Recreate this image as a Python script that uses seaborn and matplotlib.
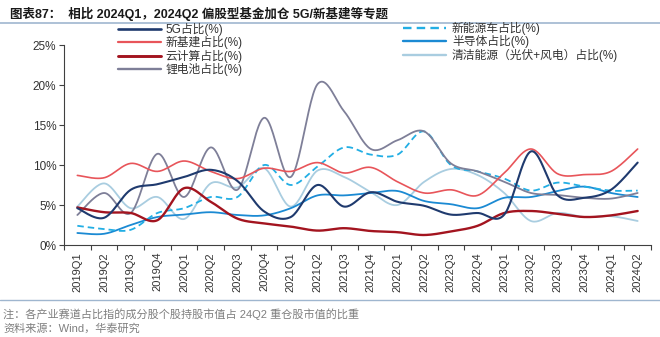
import numpy as np
import pandas as pd
import matplotlib
matplotlib.use("Agg")
import matplotlib.pyplot as plt
import seaborn as sns
from matplotlib.lines import Line2D
from matplotlib.ticker import FixedLocator, FuncFormatter

quarters = ["2019Q1", "2019Q2", "2019Q3", "2019Q4", "2020Q1", "2020Q2", "2020Q3", "2020Q4",
            "2021Q1", "2021Q2", "2021Q3", "2021Q4", "2022Q1", "2022Q2", "2022Q3", "2022Q4",
            "2023Q1", "2023Q2", "2023Q3", "2023Q4", "2024Q1", "2024Q2"]

g5 = [4.6, 3.4, 6.9, 7.6, 8.5, 9.4, 8.0, 4.2, 3.5, 7.5, 4.8, 6.6, 5.4, 4.9, 3.8, 4.0, 3.8, 11.7, 6.2, 5.9, 6.9, 10.3]
nev = [2.4, 2.0, 1.9, 4.0, 4.6, 6.0, 6.0, 10.0, 7.5, 9.8, 12.2, 11.3, 11.3, 14.2, 10.0, 9.2, 8.3, 6.8, 7.8, 7.3, 6.8, 6.8]
infra = [8.7, 8.4, 10.2, 9.2, 10.5, 9.2, 8.3, 9.6, 9.2, 10.3, 9.0, 9.7, 7.9, 6.5, 6.9, 6.2, 9.0, 12.0, 8.9, 8.8, 9.2, 12.0]
cloud = [4.7, 4.1, 4.0, 3.1, 7.1, 5.4, 3.3, 2.7, 2.3, 1.8, 2.1, 1.75, 1.6, 1.25, 1.7, 2.4, 4.0, 4.25, 3.9, 3.5, 3.7, 4.25]
semi = [1.5, 1.4, 2.5, 3.5, 3.8, 4.1, 3.75, 3.7, 4.6, 6.2, 6.2, 6.5, 6.75, 5.5, 5.1, 4.6, 5.9, 6.0, 6.75, 7.3, 6.5, 6.0]
clean = [4.8, 7.7, 4.6, 6.0, 3.25, 7.7, 7.2, 9.6, 4.8, 9.3, 8.5, 6.6, 5.0, 7.9, 9.5, 8.75, 6.5, 3.0, 4.0, 3.5, 3.6, 3.0]
lith = [3.75, 6.5, 4.0, 11.4, 6.0, 12.2, 6.9, 15.9, 8.5, 20.1, 16.7, 12.0, 13.1, 14.2, 10.2, 9.2, 7.9, 6.5, 6.25, 5.9, 5.8, 6.5]

names = ["5G占比(%)", "新基建占比(%)", "云计算占比(%)", "锂电池占比(%)",
         "新能源车占比(%)", "半导体占比(%)", "清洁能源（光伏+风电）占比(%)"]
series = [g5, infra, cloud, lith, nev, semi, clean]
colors = ["#1F3A6E", "#E8555A", "#A3141F", "#7E7F98", "#22AEE4", "#1B8AD3", "#A9CDE0"]
widths = [1.5, 1.2, 1.7, 1.3, 1.3, 1.3, 1.3]
styles = ["-", "-", "-", "-", (0, (3.6, 2.2)), "-", "-"]


def smooth(vals, n=24):
    """Excel-like smoothed line (cubic Bezier through the points)."""
    p = np.column_stack([np.arange(len(vals), dtype=float), np.asarray(vals, float)])
    ext = np.vstack([p[0], p, p[-1]])
    out = []
    t = np.linspace(0, 1, n, endpoint=False)[:, None]
    for i in range(len(p) - 1):
        p0, p1 = ext[i + 1], ext[i + 2]
        c1 = p0 + (ext[i + 2] - ext[i]) / 6.0
        c2 = p1 - (ext[i + 3] - ext[i + 1]) / 6.0
        seg = (1 - t) ** 3 * p0 + 3 * (1 - t) ** 2 * t * c1 + 3 * (1 - t) * t ** 2 * c2 + t ** 3 * p1
        out.append(seg)
    out.append(p[-1:])
    return np.vstack(out)


sns.set_style("ticks")
plt.rcParams["font.family"] = ["Liberation Sans", "Noto Sans CJK SC"]

fig = plt.figure(figsize=(6.6, 3.37), dpi=100)
ax = fig.add_axes([64 / 660, 1 - 245 / 337, 587 / 660, 200 / 337])

order_draw = [6, 5, 4, 3, 1, 2, 0]
for k in order_draw:
    pts = smooth(series[k])
    df = pd.DataFrame({"x": pts[:, 0], "v": pts[:, 1]})
    sns.lineplot(data=df, x="x", y="v", ax=ax, color=colors[k], linewidth=widths[k],
                 estimator=None, sort=False, legend=False)
    ax.lines[-1].set_linestyle(styles[k])

ax.set_xlim(-0.5, len(quarters) - 0.5)
ax.set_ylim(0, 25)
ax.set_xlabel("")
ax.set_ylabel("")
ax.set_xticks(range(len(quarters)))
ax.set_xticklabels(quarters, rotation=90, fontsize=8, color="#333333")
ax.xaxis.set_minor_locator(FixedLocator(np.arange(-0.5, len(quarters), 1.0)))
ax.tick_params(axis="x", which="major", length=0, pad=5)
ax.tick_params(axis="x", which="minor", length=3.5, width=0.8, color="#404040", direction="out")
ax.set_yticks([0, 5, 10, 15, 20, 25])
ax.yaxis.set_major_formatter(FuncFormatter(lambda v, p: f"{int(v)}%"))
ax.tick_params(axis="y", length=3.5, width=0.8, color="#404040", labelsize=8.5, labelcolor="#333333", pad=2)
for s in ["top", "right"]:
    ax.spines[s].set_visible(False)
for s in ["left", "bottom"]:
    ax.spines[s].set_color("#404040")
    ax.spines[s].set_linewidth(0.8)

handles = [Line2D([0], [0], color=colors[k], lw=widths[k] + 0.4,
                  linestyle=styles[k]) for k in range(7)]
leg1 = fig.legend(handles[:4], names[:4], loc="upper left", bbox_to_anchor=(118 / 660, 1 - 23 / 337),
                  frameon=False, fontsize=8.5, handlelength=3.6, handletextpad=0.45,
                  labelspacing=0.02, borderpad=0, borderaxespad=0)
leg2 = fig.legend(handles[4:], names[4:], loc="upper left", bbox_to_anchor=(403 / 660, 1 - 22 / 337),
                  frameon=False, fontsize=8.5, handlelength=3.6, handletextpad=0.55,
                  labelspacing=0.02, borderpad=0, borderaxespad=0)
for lg in (leg1, leg2):
    for t in lg.get_texts():
        t.set_color("#333333")

# title and separators
fig.text(10 / 660, 1 - 14 / 337, "图表87：  相比 2024Q1，2024Q2 偏股型基金加仓 5G/新基建等专题",
         fontsize=9, fontweight="bold", color="#1A1A1A", va="center", ha="left")
fig.add_artist(Line2D([0, 1], [1 - 23 / 337, 1 - 23 / 337], transform=fig.transFigure,
                      color="#9FB6CF", lw=1.2))
fig.add_artist(Line2D([0, 1], [1 - 300 / 337, 1 - 300 / 337], transform=fig.transFigure,
                      color="#9FB6CF", lw=1.0))
fig.text(3 / 660, 1 - 314 / 337, "注：各产业赛道占比指的成分股个股持股市值占 24Q2 重仓股市值的比重",
         fontsize=8, color="#7F7F7F", va="center", ha="left")
fig.text(3 / 660, 1 - 328 / 337, "资料来源：Wind，华泰研究",
         fontsize=8, color="#7F7F7F", va="center", ha="left")

fig.savefig("out.png", dpi=100)
